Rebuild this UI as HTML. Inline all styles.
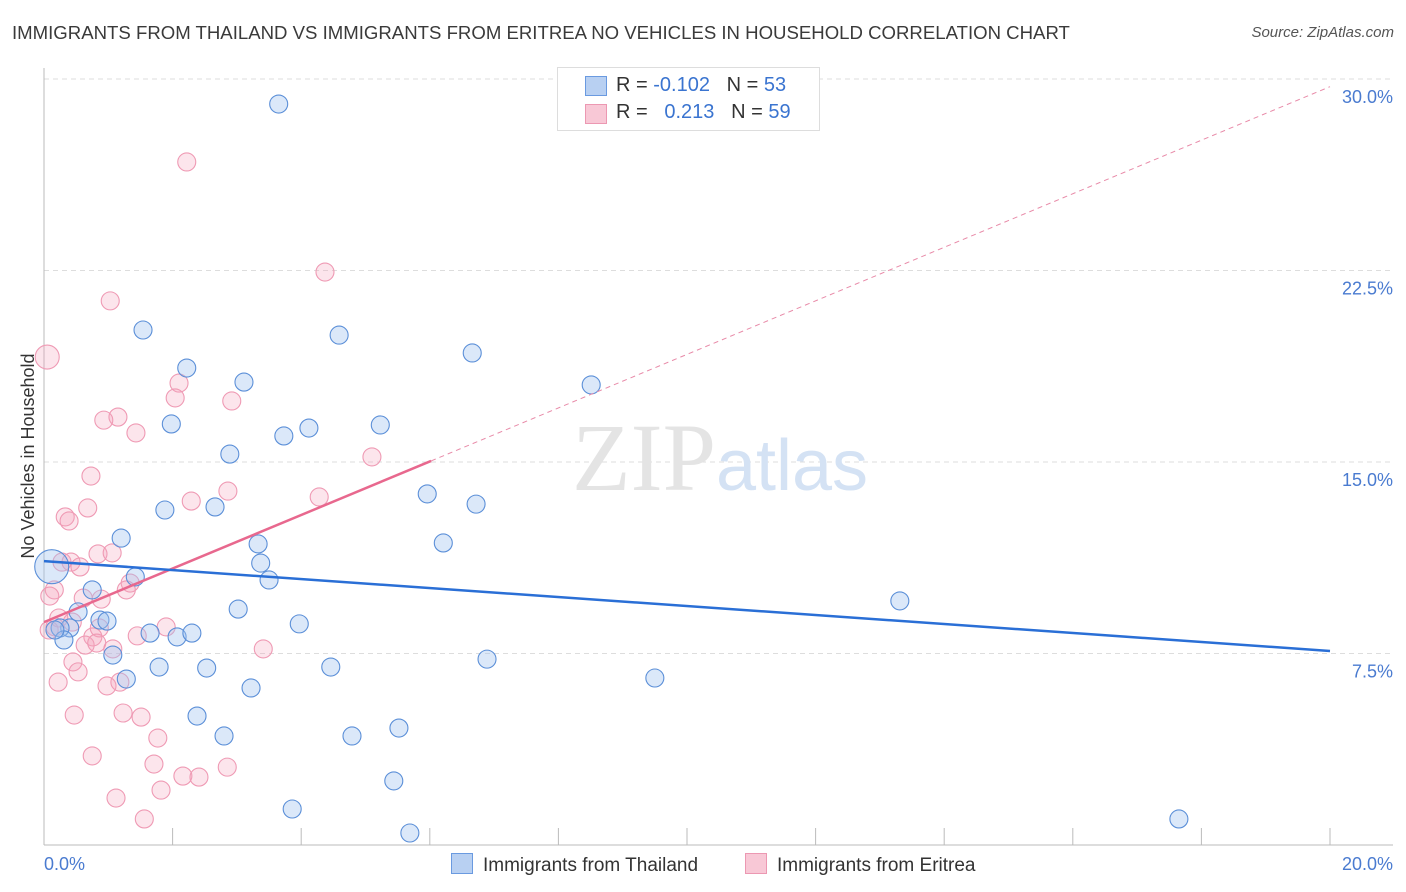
<!DOCTYPE html>
<html><head><meta charset="utf-8"><style>
body{margin:0;background:#fff;font-family:"Liberation Sans",sans-serif;}
#wrap{position:relative;width:1406px;height:892px;overflow:hidden;}
.t{position:absolute;white-space:nowrap;}
</style></head><body><div id="wrap">
<div class="t" style="left:12px;top:22px;font-size:18.6px;color:#3a3a3a">IMMIGRANTS FROM THAILAND VS IMMIGRANTS FROM ERITREA NO VEHICLES IN HOUSEHOLD CORRELATION CHART</div>
<div class="t" style="right:12px;top:24px;font-size:15px;color:#555;font-style:italic">Source: ZipAtlas.com</div>
<svg id="svg" width="1406" height="892" style="position:absolute;left:0;top:0"></svg>
</div>
<script>
const blueX=[3.65,1.54,2.22,4.59,6.66,3.11,8.51,1.98,3.73,4.12,5.23,2.89,1.88,2.66,5.96,6.72,1.20,3.33,6.21,3.37,3.50,1.42,0.75,0.53,0.87,0.98,3.02,3.97,13.31,0.40,0.25,0.31,1.65,2.07,2.30,1.07,1.79,2.53,4.46,6.89,1.28,3.22,9.50,2.38,2.80,4.79,5.52,5.44,3.86,5.69,17.65,0.12,0.17];
const blueY=[29.02,20.17,18.68,19.97,19.27,18.13,18.02,16.49,16.02,16.33,16.45,15.31,13.12,13.24,13.75,13.35,12.02,11.79,11.83,11.04,10.38,10.50,9.99,9.13,8.81,8.77,9.24,8.66,9.56,8.50,8.50,8.03,8.30,8.15,8.30,7.44,6.97,6.93,6.97,7.28,6.50,6.15,6.54,5.05,4.27,4.27,4.58,2.51,1.41,0.47,1.02,10.90,8.42];
const pinkX=[2.22,4.37,1.03,0.05,2.10,2.04,2.92,1.15,0.93,1.43,5.10,0.73,2.29,2.86,4.28,0.68,0.33,0.39,0.28,0.84,1.06,0.42,0.56,0.16,0.09,1.34,1.28,0.89,0.61,0.23,0.44,0.86,1.90,1.45,0.76,0.64,0.82,1.07,0.45,0.53,0.22,0.98,1.18,3.41,0.17,0.47,1.23,1.51,1.77,0.75,1.71,2.16,2.85,2.41,1.82,1.12,1.56,0.08];
const pinkY=[26.75,22.44,21.31,19.11,18.09,17.51,17.39,16.76,16.64,16.14,15.20,14.45,13.47,13.86,13.63,13.20,12.85,12.69,11.08,11.40,11.44,11.08,10.89,9.99,9.75,10.26,9.99,9.63,9.67,8.89,8.73,8.50,8.54,8.19,8.15,7.83,7.91,7.68,7.17,6.78,6.38,6.23,6.38,7.68,8.54,5.09,5.17,5.01,4.19,3.49,3.17,2.70,3.05,2.66,2.15,1.84,1.02,8.42];
const yTicks=[7.5,15,22.5,30];
const yTickLabels=["7.5%","15.0%","22.5%","30.0%"];
const blueTrend=[11.12,7.60];
const pinkTrend=[8.73,29.7];
const pinkSolidEnd=6.02;
const X=v=>44+v/20*1286, Y=v=>845-v/7.5*191.5;
const s=document.getElementById('svg');const NS='http://www.w3.org/2000/svg';
function el(t,a,p){const e=document.createElementNS(NS,t);for(const k in a)e.setAttribute(k,a[k]);(p||s).appendChild(e);return e;}
yTicks.forEach((v,i)=>{
 const g=el('line',{x1:44,x2:1393,y1:Y(v),y2:Y(v),stroke:'#ddd','stroke-dasharray':'5,4'});
 
 
 const t=el('text',{x:1393,y:Y(v)+24,'text-anchor':'end','font-size':18,fill:'#4a7bd0'});t.textContent=yTickLabels[i];
 
 
});
el('line',{x1:44,x2:44,y1:68,y2:845,stroke:'#bbb'});
el('line',{x1:44,x2:1393,y1:845,y2:845,stroke:'#bbb'});
for(let i=1;i<=10;i++){const tk=el('line',{x1:X(i*2),x2:X(i*2),y1:828,y2:845,stroke:'#bbb'});
 
 }
const t0=el('text',{x:44,y:870,'font-size':18,fill:'#4a7bd0'});t0.textContent='0.0%';
const t1=el('text',{x:1393,y:870,'text-anchor':'end','font-size':18,fill:'#4a7bd0'});t1.textContent='20.0%';
const yl=el('text',{x:34,y:456,'text-anchor':'middle','font-size':18,fill:'#333',transform:'rotate(-90 34 456)'});yl.textContent='No Vehicles in Household';


const wm=el('text',{x:720,y:490,'text-anchor':'middle','font-size':96,fill:'#e4e4e4','font-family':'Liberation Serif'});wm.innerHTML='ZIP<tspan font-family="Liberation Sans" font-size="72" fill="#d4e2f4">atlas</tspan>';
function pts(xs,ys,fill,stroke,name){xs.forEach((x,i)=>{
 const r=(name==='blue-point'&&i===51)?17:(name==='pink-point'&&i===3?12:9);
 const c=el('circle',{cx:X(x),cy:Y(ys[i]),r:r,fill:fill,stroke:stroke,'stroke-width':1.1});
 
 });}
pts(pinkX,pinkY,'rgba(244,160,185,0.28)','#ef9ab4','pink-point');
pts(blueX,blueY,'rgba(160,195,238,0.38)','#5b8fd8','blue-point');
const pm=(pinkTrend[1]-pinkTrend[0])/20;
el('line',{x1:X(pinkSolidEnd),y1:Y(pinkTrend[0]+pm*pinkSolidEnd),x2:X(20),y2:Y(pinkTrend[1]),stroke:'#e88aa8','stroke-dasharray':'5,4','stroke-width':1});
const pl=el('line',{x1:X(0),y1:Y(pinkTrend[0]),x2:X(pinkSolidEnd),y2:Y(pinkTrend[0]+pm*pinkSolidEnd),stroke:'#e8688e','stroke-width':2.5});


const bl=el('line',{x1:X(0),y1:Y(blueTrend[0]),x2:X(20),y2:Y(blueTrend[1]),stroke:'#2a6fd6','stroke-width':2.5});


</script>
<div class="t" style="left:557px;top:67px;width:261px;height:62px;border:1px solid #ddd;background:#fff;font-size:20px;color:#333">
 <div style="position:absolute;left:27px;top:8px;width:20px;height:18px;background:#b8d0f2;border:1px solid #6a9ae0"></div>
 <div style="position:absolute;left:58px;top:6px">R = <span style="color:#3a74d0">-0.102</span>&nbsp;&nbsp;&nbsp;N = <span style="color:#3a74d0">53</span></div>
 <div style="position:absolute;left:27px;top:36px;width:20px;height:18px;background:#f8c8d6;border:1px solid #ec98b2"></div>
 <div style="position:absolute;left:58px;top:33px">R = &nbsp;&nbsp;<span style="color:#3a74d0">0.213</span>&nbsp;&nbsp;&nbsp;N = <span style="color:#3a74d0">59</span></div>
</div>
<div class="t" style="left:451px;top:853px;font-size:19px;color:#333"><span style="display:inline-block;width:20px;height:19px;background:#b8d0f2;border:1px solid #6a9ae0;vertical-align:-3px;margin-right:10px"></span>Immigrants from Thailand</div>
<div class="t" style="left:745px;top:853px;font-size:19px;color:#333"><span style="display:inline-block;width:20px;height:19px;background:#f8c8d6;border:1px solid #ec98b2;vertical-align:-3px;margin-right:10px"></span>Immigrants from Eritrea</div>
</body></html>
